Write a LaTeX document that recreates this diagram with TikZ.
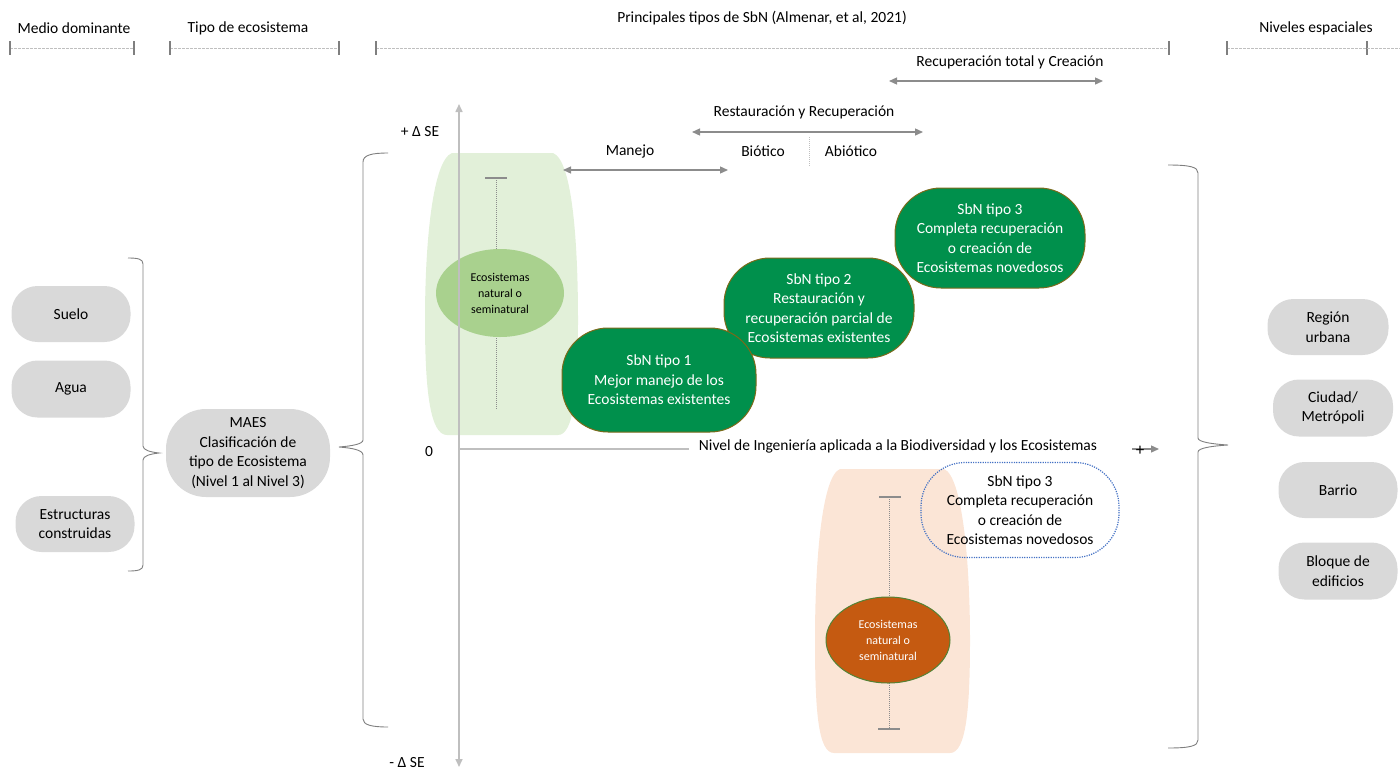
\documentclass[tikz,border=0pt]{standalone}
\usepackage{fontspec}
\setmainfont{Carlito}
\usetikzlibrary{arrows.meta,shapes.geometric}
\definecolor{boxgray}{HTML}{D9D9D9}
\definecolor{palegreen}{HTML}{E2F0D9}
\definecolor{midgreen}{HTML}{A9D18E}
\definecolor{sbngreen}{HTML}{00904C}
\definecolor{sbnborder}{HTML}{7A6A1A}
\definecolor{peach}{HTML}{FBE5D6}
\definecolor{rust}{HTML}{C55A11}
\definecolor{rustborder}{HTML}{548235}
\definecolor{dotblue}{HTML}{4472C4}
\definecolor{axisgray}{HTML}{BFBFBF}
\definecolor{arrgray}{HTML}{8C8C8C}
\definecolor{bracegray}{HTML}{7F7F7F}
\begin{document}
\begin{tikzpicture}[x=1pt,y=-1pt,
  >={Triangle[length=8pt,width=7pt]},
  txt/.style={font=\fontsize{15.5}{19.5}\selectfont, text=black, align=center, inner sep=0pt},
  smalltxt/.style={font=\fontsize{12}{16}\selectfont, align=center, inner sep=0pt},
  graybox/.style={txt, fill=boxgray, rounded corners=26pt, minimum width=119pt, minimum height=56pt},
  sbnbox/.style={txt, text=white, fill=sbngreen, draw=sbnborder, line width=1pt, rounded corners=46pt, minimum width=190pt, minimum height=100pt},
  garrow/.style={draw=arrgray, line width=1.3pt, <->},
  dashline/.style={draw=axisgray, line width=0.8pt, dash pattern=on 2.5pt off 1.5pt},
  tickmark/.style={draw=bracegray, line width=1.4pt},
  bracestyle/.style={draw=bracegray, line width=0.9pt},
  capbar/.style={draw=arrgray, line width=1.6pt},
  dotline/.style={draw=arrgray, line width=0.7pt, dash pattern=on 1pt off 1pt}
]
\useasboundingbox (0,0) rectangle (1400,772);

% ---------- header ----------
\node[txt] (h1) at (74,28) {Medio dominante};
\node[txt] (h2) at (248,28) {Tipo de ecosistema};
\node[txt] (h3) at (762,18) {Principales tipos de SbN (Almenar, et al, 2021)};
\node[txt] (h4) at (1316,28) {Niveles espaciales};
\foreach \a/\b in {10/134,170/339,376/1169,1227/1367}{
  \draw[dashline] (\a,48) -- (\b,48);
  \draw[tickmark] (\a,41) -- (\a,55);
  \draw[tickmark] (\b,41) -- (\b,55);
}
\draw[dashline] (1367,48) -- (1400,48);

% ---------- background shapes ----------
\fill[palegreen] (452,153) -- (553,153) .. controls (572,160) and (578,240) .. (578,320)
  .. controls (578,390) and (574,435) .. (558,435) -- (447,435)
  .. controls (430,435) and (425,390) .. (425,320) .. controls (425,240) and (433,160) .. (452,153) -- cycle;
\fill[peach] (840,469) -- (944,469) .. controls (962,476) and (970,560) .. (970,640)
  .. controls (970,710) and (966,753) .. (950,753) -- (834,753)
  .. controls (818,753) and (815,710) .. (815,640) .. controls (815,560) and (822,476) .. (840,469) -- cycle;

% ---------- T-bars ----------
\coordinate (gt) at (496,178); \coordinate (gb) at (496,410);
\draw[dotline] (gt) -- (gb);
\draw[capbar] (485,178) -- (507,178);
\coordinate (ot) at (889,497); \coordinate (ob) at (889,729);
\draw[dotline] (ot) -- (ob);
\draw[capbar] (879,497) -- (901,497);
\draw[capbar] (878,729) -- (900,729);

% ---------- ellipses ----------
\node[ellipse, fill=midgreen, minimum width=128pt, minimum height=88pt, smalltxt, text=black] (eg) at (500,293)
  {Ecosistemas\\natural o\\seminatural};
\node[ellipse, fill=rust, draw=rustborder, line width=1pt, minimum width=124pt, minimum height=86pt, smalltxt, text=white] (eo) at (888,640)
  {Ecosistemas\\natural o\\seminatural};

% ---------- axes ----------
\coordinate (ytop) at (459,104);
\coordinate (ybot) at (459,767);
\coordinate (orig) at (459,449);
\coordinate (xend) at (689,449);
\draw[draw=axisgray, line width=1.6pt, <->] (ytop) -- (ybot);
\draw[draw=axisgray, line width=1.6pt] (orig) -- (xend);
\node[txt] (pse) at (420,132) {+ Δ SE};
\node[txt] (mse) at (407,763) {- Δ SE};
\node[txt] (zero) at (429,452) {0};
\node[txt] (xlab) at (898,446) {Nivel de Ingeniería aplicada a la Biodiversidad y los Ecosistemas};
\coordinate (pa) at (1132,449); \coordinate (pb) at (1159,449);
\draw[draw=arrgray, line width=1.3pt, ->] (pa) -- (pb);
\node[txt, font=\fontsize{17}{19}\selectfont] (plus) at (1140,451) {+};

% ---------- top arrows ----------
\node[txt] (rtc) at (1010,62) {Recuperación total y Creación};
\coordinate (rtcL) at (889,81); \coordinate (rtcR) at (1103,81);
\draw[garrow] (rtcL) -- (rtcR);
\node[txt] (ryr) at (804,112) {Restauración y Recuperación};
\coordinate (ryrL) at (692,132); \coordinate (ryrR) at (923,132);
\draw[garrow] (ryrL) -- (ryrR);
\node[txt] (bio) at (763,151) {Biótico};
\node[txt] (abio) at (851,151) {Abiótico};
\coordinate (sepT) at (809,137); \coordinate (sepB) at (809,167);
\draw[draw=axisgray, line width=0.7pt, dash pattern=on 1pt off 1pt] (sepT) -- (sepB);
\node[txt] (man) at (630,151) {Manejo};
\coordinate (manL) at (563,170); \coordinate (manR) at (728,170);
\draw[garrow] (manL) -- (manR);

% ---------- SbN boxes ----------
\node[sbnbox] (s3) at (990,238) {SbN tipo 3\\Completa recuperación\\o creación de\\Ecosistemas novedosos};
\node[sbnbox] (s2) at (819,308) {SbN tipo 2\\Restauración y\\recuperación parcial de\\Ecosistemas existentes};
\node[sbnbox, minimum width=194pt, minimum height=104pt] (s1) at (659,380) {SbN tipo 1\\Mejor manejo de los\\Ecosistemas existentes};
\node[txt, draw=dotblue, line width=1.2pt, dash pattern=on 1.2pt off 1.2pt, rounded corners=44pt, minimum width=198pt, minimum height=95pt] (s3b) at (1020,510)
  {SbN tipo 3\\Completa recuperación\\o creación de\\Ecosistemas novedosos};

% ---------- left column ----------
\node[graybox] (suelo) at (71,314) {Suelo};
\node[graybox, minimum height=57pt] (agua) at (71,389) {Agua};
\node[graybox] (estr) at (75,524) {Estructuras\\construidas};
\node[graybox, minimum width=164pt, minimum height=88pt, rounded corners=40pt] (maes) at (248,453)
  {MAES\\Clasificación de\\tipo de Ecosistema\\(Nivel 1 al Nivel 3)};

% ---------- right column ----------
\node[graybox, minimum width=121pt] (reg) at (1328,327) {Región\\urbana};
\node[graybox, minimum width=120pt, minimum height=57pt] (ciu) at (1333,408) {Ciudad/\\Metrópoli};
\node[graybox] (bar) at (1338,490) {Barrio};
\node[graybox, minimum height=57pt] (blo) at (1338,571) {Bloque de\\edificios};

% ---------- braces ----------
\draw[bracestyle] (128,258) .. controls (138,258) and (143,259) .. (143,264) -- (143,446)
  .. controls (143,450) and (150,452) .. (159,453)
  .. controls (150,454) and (143,456) .. (143,460) -- (143,565)
  .. controls (143,570) and (138,571) .. (128,571);
\draw[bracestyle] (388,153) .. controls (372,153) and (363,155) .. (363,162) -- (363,440)
  .. controls (363,444) and (352,446) .. (339,447)
  .. controls (352,448) and (363,450) .. (363,455) -- (363,719)
  .. controls (363,725) and (372,727) .. (388,727);
\draw[bracestyle] (1168,165) .. controls (1190,165) and (1198,167) .. (1198,173) -- (1198,438)
  .. controls (1198,442) and (1212,444) .. (1228,445)
  .. controls (1212,446) and (1198,448) .. (1198,452) -- (1198,740)
  .. controls (1198,746) and (1190,748) .. (1168,748);
\end{tikzpicture}
\end{document}
